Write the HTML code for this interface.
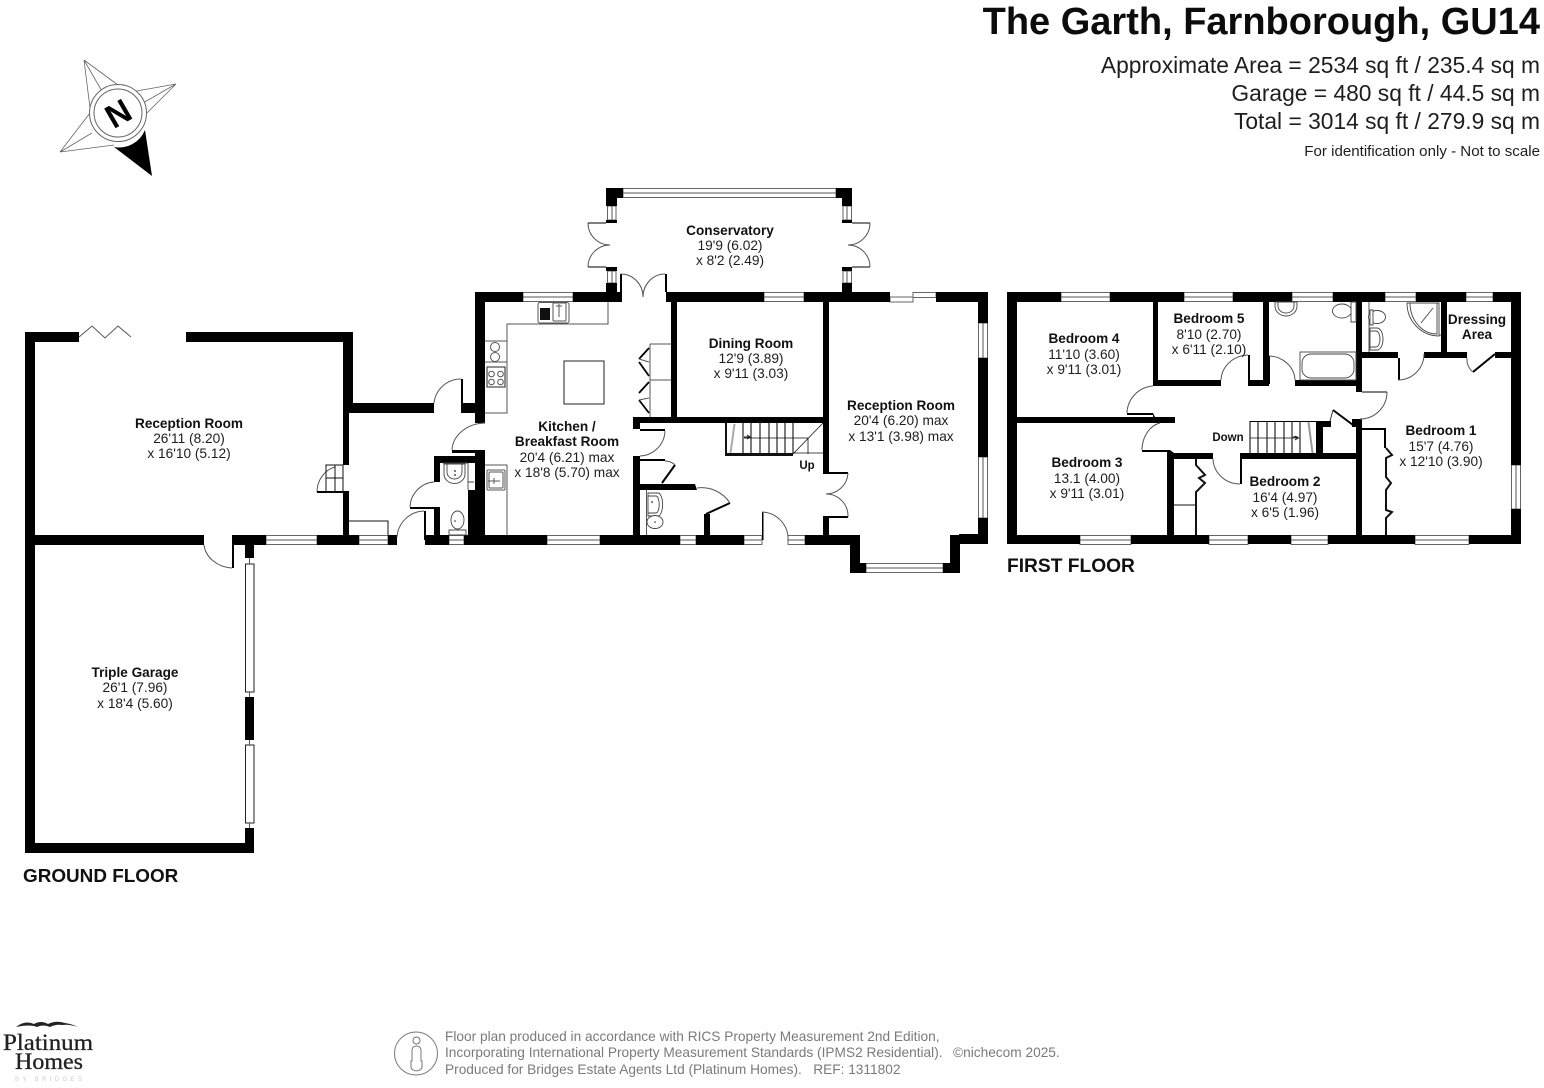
<!DOCTYPE html>
<html><head><meta charset="utf-8"><title>The Garth, Farnborough, GU14</title>
<style>
html,body{margin:0;padding:0;background:#fff}
svg{display:block}
text{font-family:"Liberation Sans",sans-serif;fill:#1e1e1e}
.r text{font-size:13.7px;text-anchor:middle}
.r .b{font-weight:bold;font-size:13.6px;fill:#111}
.l{fill:none;stroke:#555;stroke-width:1}
.k{fill:none;stroke:#111;stroke-width:1}
.w{fill:#fff;stroke:#666;stroke-width:1}
.f{fill:#fff;stroke:#444;stroke-width:.9}
</style></head><body>
<svg width="1544" height="1088" viewBox="0 0 1544 1088" xmlns="http://www.w3.org/2000/svg">
<rect width="1544" height="1088" fill="#fff"/>

<!-- heading -->
<text x="1540" y="34" font-size="38" font-weight="bold" text-anchor="end" style="fill:#0c0c0c">The Garth, Farnborough, GU14</text>
<g text-anchor="end" font-size="22.8">
<text x="1540" y="73">Approximate Area = 2534 sq ft / 235.4 sq m</text>
<text x="1540" y="101">Garage = 480 sq ft / 44.5 sq m</text>
<text x="1540" y="129">Total = 3014 sq ft / 279.9 sq m</text>
</g>
<text x="1540" y="156" font-size="15.1" text-anchor="end">For identification only - Not to scale</text>

<!-- compass -->
<g>
<path d="M84 60L122 88M84 60L90 108M84 60L103 93M176 84L131 92M176 84L147 113M176 84L143 103M60 152L90 113M60 152L114 145M60 152L92 133" fill="none" stroke="#666" stroke-width=".8"/>
<path d="M114 147L152 176L145 130A28 28 0 0 1 114 147Z" fill="#000"/>
<circle cx="118" cy="113" r="28.500" fill="#fff" stroke="#666"/>
<circle cx="118" cy="113" r="24" fill="#fff" stroke="#666"/>
<text x="118" y="125" font-size="33" font-weight="bold" text-anchor="middle" transform="rotate(-30 118 113)" style="fill:#000">N</text>
</g>

<!-- windows and glazing -->
<g class="w">
<rect x="254" y="332.5" width="45" height="9"/>
<rect x="266" y="535.5" width="51" height="9"/>
<rect x="359" y="535.5" width="29" height="9"/>
<rect x="449" y="535.5" width="15" height="9"/>
<rect x="523" y="292.5" width="50" height="9"/>
<rect x="547" y="535.5" width="53" height="9"/>
<rect x="680" y="535.5" width="16" height="9"/>
<rect x="744" y="535.5" width="18" height="9"/>
<rect x="788" y="535.5" width="17" height="9"/>
<rect x="764" y="292.5" width="40" height="9"/>
<rect x="623" y="188.5" width="213" height="9"/>
<rect x="607.500" y="206" width="8.500" height="14"/>
<rect x="607.500" y="271" width="8.500" height="12"/>
<rect x="843" y="206" width="8.500" height="14"/>
<rect x="843" y="271" width="8.500" height="12"/>
<rect x="890" y="297" width="23" height="5"/>
<rect x="913" y="292.5" width="23" height="5"/>
<rect x="978.5" y="323" width="9" height="35"/>
<rect x="978.5" y="457" width="9" height="61"/>
<rect x="866" y="563.5" width="77" height="9"/>
<rect x="1061" y="292.5" width="49" height="9"/>
<rect x="1184" y="292.5" width="49" height="9"/>
<rect x="1292" y="292.5" width="41" height="9"/>
<rect x="1385" y="292.5" width="31" height="9"/>
<rect x="1466" y="292.5" width="27" height="9"/>
<rect x="1080" y="535.5" width="51" height="9"/>
<rect x="1209" y="535.5" width="39" height="9"/>
<rect x="1291" y="535.5" width="37" height="9"/>
<rect x="1415" y="535.5" width="54" height="9"/>
<rect x="1511.5" y="465" width="9" height="44"/>
</g>
<path class="l" d="M254 337H299M266 540H317M359 540H388M449 540H464M523 297H573M547 540H600M680 540H696M744 540H762M788 540H805M764 297H804M623 193H836M612 206V220M612 271V283M847 206V220M847 271V283M983 323V358M983 457V518M866 568H943M1061 297H1110M1184 297H1233M1292 297H1333M1385 297H1416M1466 297H1493M1080 540H1131M1209 540H1248M1291 540H1328M1415 540H1469M1516 465V509"/>

<!-- garage glazing -->
<rect x="245.5" y="564" width="8.5" height="128" fill="#fff" stroke="#222"/>
<rect x="245.5" y="745" width="8.5" height="78" fill="#fff" stroke="#222"/>
<path class="l" d="M249.5 558V564M249.5 692V697M249.5 740V745M249.5 823V828"/>

<!-- walls -->
<path fill="#000" d="
M25 332H79V342H35V853H25Z
M186 332H353V413H349V465H343V342H186Z
M343 413H349V465H343ZM343 492H349V545H343Z
M353 403H434V413H353Z
M461 379H463V403H476V413H461Z
M35 535H204V545H35Z
M233 535H266V545H233ZM317 535H359V545H317ZM388 535H397V545H388Z
M232 535H234V568H232Z
M245 545H254V558H245ZM245 697H254V740H245ZM245 828H254V853H245Z
M25 843H254V853H25Z
M434 456H475V463H440V482H434Z
M434 507H440V540H434Z
M410 507H440V509H410Z
M424 511H426V540H424Z
M425 535H449V545H425Z
M464 535H547V545H464ZM600 535H680V545H600ZM696 535H744V545H696ZM805 535H860V545H805Z
M762 512H763.500V540H762Z
M475 292H485V423H475Z
M475 450H485V545H475Z
M468 490H475V545H468Z
M452 450H475V453H452Z
M475 292H523V302H475ZM573 292H621V302H573Z
M606 188H623V198H617V206H606ZM606 220H617V223H606ZM606 267H617V271H606ZM606 283H617V292H606Z
M620 274H622V302H620ZM665 274H667V292H665Z
M666 292H764V302H666ZM804 292H890V302H804ZM936 292H988V302H936Z
M836 188H852V206H842V198H836ZM842 220H852V223H842ZM842 267H852V271H842ZM842 283H852V292H842Z
M671 302H677V417H671Z
M633 417H824V423H640V429H633Z
M640 429H665V431H640Z
M633 456H640V535H633Z
M640 459H665V461H640Z
M640 484H695L697 490H640Z
M704 514H710V535H704Z
M823 302H829V472H848V474H823Z
M823 516H848V518H829V535H823Z
M978 292H988V323H978ZM978 358H988V457H978ZM978 518H988V544H978Z
M959 534H988V544H959Z
M950 535H960V573H950Z
M850 535H860V573H850Z
M850 563H866V573H850ZM943 563H960V573H943Z

M1007 292H1061V302H1017V535H1080V544H1007Z
M1110 292H1184V302H1110ZM1233 292H1292V302H1233ZM1333 292H1385V302H1333ZM1416 292H1466V302H1416ZM1493 292H1521V465H1511V302H1493Z
M1511 509H1521V544H1469V535H1511Z
M1131 535H1209V544H1131ZM1248 535H1291V544H1248ZM1328 535H1415V544H1328Z
M1153 302H1158V386H1153Z
M1153 380H1221V386H1153Z
M1248 355H1250V380H1263V302H1269V386H1248Z
M1127 413H1153L1155 417H1175V423H1017V417H1153V415H1127Z
M1142 450H1170L1174 453H1213V459H1174V535H1167V452H1142Z
M1240 453H1356V459H1242V484H1240Z
M1250 421H1316V422H1250Z
M1316 421H1331V427H1323V453H1316Z
M1268 356H1270V384H1268Z
M1295 380H1356V302H1362V392H1356V386H1295Z
M1362 352H1398V380H1400V358H1362Z
M1424 352H1441V302H1447V352H1467V358H1424Z
M1495 352H1511V358H1495Z
M1352 419H1362V535H1356V427H1352Z
M1362 428H1386V448H1384V430H1362Z
"/>
<path stroke="#000" stroke-width="2" fill="none" d="M1333 410L1353 425M706 514L730 503M675 465L662 483M1473 372L1495 354"/>
<path d="M1333 410L1330 421" stroke="#333" fill="none"/>

<!-- doors -->
<g class="l">
<path d="M434 403A27 27 0 0 1 461 379"/>
<path d="M485 423A34 28 0 0 0 452 450"/>
<path d="M434 482A26 26 0 0 0 410 507"/>
<path d="M424 511A28 28 0 0 0 397 537"/>
<path d="M204 545A30 26 0 0 0 232 568"/>
<path d="M588 223A22 22 0 0 0 610 245A22 22 0 0 0 588 267"/>
<path d="M588 223H606M588 267H606M870 223H852M870 267H852" stroke="#000"/>
<path d="M870 223A22 22 0 0 1 848 245A22 22 0 0 1 870 267"/>
<path d="M621 274A22 23 0 0 1 643 297A22 23 0 0 1 665 274"/>
<path d="M665 431A26 26 0 0 1 640 456"/>
<path d="M665 461A14 14 0 0 1 675 465"/>
<path d="M697 488A34 34 0 0 1 730 503"/>
<path d="M762 512A27 27 0 0 1 788 541"/>
<path d="M848 473A22 22 0 0 1 826 494A22 22 0 0 1 848 517"/>
<path d="M1221 380A28 26 0 0 1 1248 355"/>
<path d="M1153 386A28 28 0 0 0 1127 413"/>
<path d="M1160 423A22 28 0 0 0 1142 450"/>
<path d="M1213 459A27 26 0 0 0 1240 484"/>
<path d="M1269 356A27 25 0 0 1 1295 380"/>
<path d="M1387 392A27 27 0 0 1 1360 419"/>
<path d="M1362 392H1387" stroke="#000"/>
<path d="M1398 380A26 26 0 0 0 1424 354"/>
<path d="M1467 358A16 16 0 0 0 1473 372"/>
<path d="M317 492A24 26 0 0 1 335 467"/>
<path d="M79 337L92 326L105 338L118 326L131 337"/>
</g>
<path fill="#000" d="M317 491H349V493H317Z"/>

<!-- ground stairs notch and entry box -->
<g class="k">
<path d="M326 465H343V492H326ZM326 478H343M335 465V492"/>
<path d="M349 521H388V535"/>
<path d="M339 478H335"/>
</g>

<!-- kitchen fittings -->
<g class="l">
<path d="M608 302V324H507V413H485M485 341H507M485 465H507V535"/>
<rect x="564" y="361" width="40" height="43" stroke="#222"/>
<path d="M650 344V417M650 344H671M650 380H671"/>
<circle cx="495" cy="347" r="4.5"/><circle cx="495" cy="357" r="4.5"/>
<path d="M485 362H507"/>
<rect x="487" y="367" width="18" height="20" stroke="#222"/>
<circle cx="491.500" cy="374" r="2.800"/><circle cx="500.500" cy="374" r="2.800"/>
<circle cx="491.500" cy="382" r="2.800"/><circle cx="500.500" cy="382" r="2.800"/>
<rect x="538" y="302.500" width="31" height="20.500" rx="2"/>
<rect x="553" y="303" width="13" height="18" rx="1"/>
<path d="M559 304V317M556 306H562"/>
<rect x="487" y="470" width="18" height="20" rx="1"/>
<rect x="489" y="472" width="14" height="16" rx="1"/>
<path d="M488 481H500M494 478V484"/>
</g>
<rect x="540" y="308" width="10" height="12" fill="#111"/>
<path fill="none" stroke="#000" stroke-width="1.800" d="M649 348L639 359M639 362L649 376M649 382L639 393M639 400L649 413"/>
<path class="l" d="M639 359L649 362M639 400L649 398"/>

<!-- ground stairs -->
<g class="k">
<path d="M726 423V455H793M726 454H793" stroke-width="2"/>
<path stroke-width="1.100" d="M743 423V454M751 423V454M760 423V454M769 423V454M777 423V454M785 423V454M793 423V454"/>
<path stroke-width=".8" d="M744 438H808V454M793 454L823 423M793 453H823"/>
<path d="M744 437H750M747 435L750 437L747 439"/>
</g>
<path d="M734 424L730 453M735 424L731 453" stroke="#aaa" stroke-width="1" fill="none"/>

<!-- first floor stairs -->
<g class="k">
<path stroke-width="1.100" d="M1250 421V453M1258 421V453M1267 421V453M1275 421V453M1284 421V453M1292 421V453M1300 421V453"/>
<path stroke-width=".8" d="M1250 438H1300"/>
<path d="M1293 437H1298M1295 436L1298 438L1295 440"/>
</g>
<path d="M1308 422L1312 453M1309 422L1313 453" stroke="#999" fill="none"/>

<!-- WC fittings -->
<g class="f">
<path d="M443 463H468V482H474M468 463V490"/>
<path d="M444 464H465V474A10 9 0 0 1 444 474Z"/>
<path d="M447 464H462V472A7.500 7 0 0 1 447 472Z"/>
<ellipse cx="457.500" cy="520" rx="6.500" ry="9"/>
<path d="M449 530H466V535H449Z"/>
<path d="M646.500 490V535"/>
<path d="M648 493H658A4 10 0 0 1 658 516H648Z"/>
<path d="M648 496H656A3 8 0 0 1 656 513H648Z"/>
<ellipse cx="655" cy="522" rx="8" ry="6.500"/>
</g>
<g fill="#222"><circle cx="455" cy="471" r=".9"/><circle cx="455" cy="475" r=".9"/><circle cx="455" cy="521" r=".8"/><circle cx="652" cy="502" r=".9"/><circle cx="655" cy="522" r=".8"/><circle cx="1327" cy="366" r="1.300"/></g>

<!-- first floor fittings -->
<g class="f">
<path d="M1275 302H1297V306A11 10 0 0 1 1275 306Z"/>
<path d="M1278 302H1294V306A8 7 0 0 1 1278 306Z"/>
<ellipse cx="1342" cy="311" rx="9.500" ry="7"/>
<path d="M1351 302H1356V322H1351Z"/>
<rect x="1300" y="352" width="56" height="28"/>
<rect x="1302" y="354" width="52" height="24" rx="9"/>
<path d="M1369 302V352"/>
<ellipse cx="1377" cy="317" rx="8.500" ry="6.500"/>
<path d="M1370 310H1373V325H1370Z"/>
<path d="M1370 328H1377A6 11 0 0 1 1377 350H1370Z"/>
<path d="M1370 331H1376A4 8 0 0 1 1376 347H1370Z"/>
<path d="M1407 303H1439V336A32 33 0 0 1 1407 303Z"/>
<path d="M1410 303H1437V334A27 31 0 0 1 1410 303Z"/>
<path d="M1421 323L1433 308"/>
<path d="M1439 335H1441"/>
</g>

<!-- first floor closets -->
<g class="k">
<path d="M1174 505H1196"/>
<path stroke-width="2" d="M1196 459V465L1205 475L1199 478L1205 483L1196 492V535"/>
<path stroke-width="2" d="M1386 448L1392 455L1386 458V477L1391 483L1386 490V510L1392 512L1386 518V535"/>
</g>

<!-- room labels -->
<g class="r">
<text class="b" x="189" y="428">Reception Room</text><text x="189" y="443">26'11 (8.20)</text><text x="189" y="458">x 16'10 (5.12)</text>
<text class="b" x="135" y="677">Triple Garage</text><text x="135" y="692">26'1 (7.96)</text><text x="135" y="708">x 18'4 (5.60)</text>
<text class="b" x="567" y="431">Kitchen /</text><text class="b" x="567" y="446">Breakfast Room</text><text x="567" y="462">20'4 (6.21) max</text><text x="567" y="477">x 18'8 (5.70) max</text>
<text class="b" x="730" y="235">Conservatory</text><text x="730" y="250">19'9 (6.02)</text><text x="730" y="265">x 8'2 (2.49)</text>
<text class="b" x="751" y="348">Dining Room</text><text x="751" y="363">12'9 (3.89)</text><text x="751" y="378">x 9'11 (3.03)</text>
<text class="b" x="901" y="410">Reception Room</text><text x="901" y="425">20'4 (6.20) max</text><text x="901" y="441">x 13'1 (3.98) max</text>
<text class="b" x="1084" y="343">Bedroom 4</text><text x="1084" y="359">11'10 (3.60)</text><text x="1084" y="374">x 9'11 (3.01)</text>
<text class="b" x="1209" y="323">Bedroom 5</text><text x="1209" y="339">8'10 (2.70)</text><text x="1209" y="354">x 6'11 (2.10)</text>
<text class="b" x="1087" y="467">Bedroom 3</text><text x="1087" y="483">13.1 (4.00)</text><text x="1087" y="498">x 9'11 (3.01)</text>
<text class="b" x="1285" y="486">Bedroom 2</text><text x="1285" y="502">16'4 (4.97)</text><text x="1285" y="517">x 6'5 (1.96)</text>
<text class="b" x="1441" y="435">Bedroom 1</text><text x="1441" y="451">15'7 (4.76)</text><text x="1441" y="466">x 12'10 (3.90)</text>
<text class="b" x="1477" y="324">Dressing</text><text class="b" x="1477" y="339">Area</text>
<text class="b" x="807" y="469" style="font-size:11.500px">Up</text>
<text class="b" x="1228" y="441" style="font-size:11.500px">Down</text>
</g>
<text x="1007" y="572" font-size="19.200" font-weight="bold" style="fill:#111">FIRST FLOOR</text>
<text x="23" y="882" font-size="18.900" font-weight="bold" style="fill:#111">GROUND FLOOR</text>

<!-- footer -->
<g font-size="13.700">
<text x="445" y="1041" style="fill:#7a7a7a">Floor plan produced in accordance with RICS Property Measurement 2nd Edition,</text>
<text x="445" y="1057" style="fill:#7a7a7a">Incorporating International Property Measurement Standards (IPMS2 Residential).</text>
<text x="445" y="1074" style="fill:#7a7a7a">Produced for Bridges Estate Agents Ltd (Platinum Homes).&#160;&#160; REF: 1311802</text>
<text x="953" y="1057" style="fill:#7a7a7a">©nichecom 2025.</text>
</g>
<g fill="none" stroke="#777" stroke-width="1">
<circle cx="416" cy="1053.500" r="21.500"/>
<circle cx="416.500" cy="1040.500" r="3.500"/>
<path d="M412 1050a4.500 4 0 0 1 9 0V1061H422V1067a5 3.500 0 0 1 -11 0V1061H412Z"/>
</g>

<!-- logo -->
<path fill="#222" d="M16 1027Q25 1020 34 1024Q41 1020 48 1024Q56 1020 65 1023Q72 1024 78 1027Q69 1024 62 1025Q56 1024 50 1027Q43 1024 37 1027Q30 1024 16 1027Z"/>
<text x="3" y="1050" font-size="23" textLength="90" lengthAdjust="spacingAndGlyphs" stroke="#222" stroke-width=".3" style="font-family:'Liberation Serif',serif;fill:#222">Platinum</text>
<text x="15" y="1069" font-size="23" textLength="68" lengthAdjust="spacingAndGlyphs" stroke="#222" stroke-width=".3" style="font-family:'Liberation Serif',serif;fill:#222">Homes</text>
<text x="15" y="1081" font-size="6" textLength="67" style="fill:#ccc">BY BRIDGES</text>
</svg>
</body></html>
